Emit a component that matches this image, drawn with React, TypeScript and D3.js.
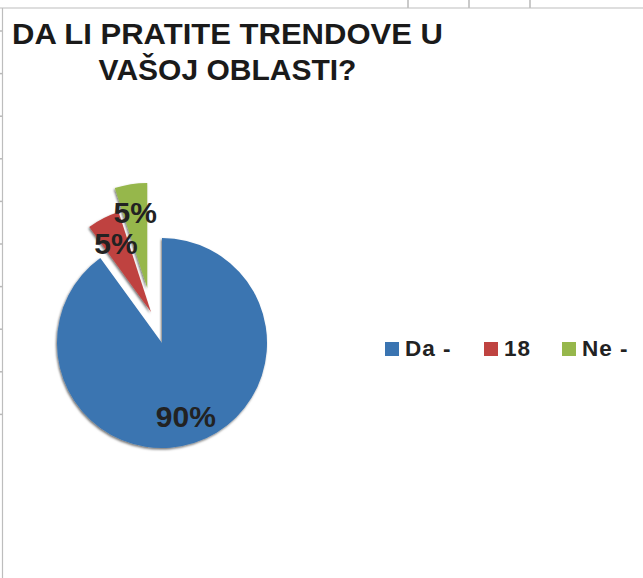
import React from "react";
import * as d3 from "d3";

const categories = ["Da -", "18", "Ne -"];
const values = [90, 5, 5];
const titleLines = ["DA LI PRATITE TRENDOVE U", "VAŠOJ OBLASTI?"];

const colors = ["#3A74B1", "#BF4340", "#96B74B"];
// explosion (px) and direction (deg clockwise from 12 o'clock) per slice
const explodeDist = [0, 33, 57];
const explodeDir = [0, 340.5, 345];

const W = 643;
const H = 578;
const cx = 162;
const cy = 343;
const R = 105;
const labelR = 77;

export default function App() {
  const pie = d3.pie<number>().sort(null).value((d) => d);
  const arcs = pie(values);
  const arcGen = d3.arc<d3.PieArcDatum<number>>().innerRadius(0).outerRadius(R);
  const total = d3.sum(values);
  const fmt = d3.format(".0%");

  const rowTicks = d3.range(0, 10).map((i) => 31 + i * 42.6);
  const colTicks = [408, 469, 530];
  const legendX = [385, 484, 562];

  return (
    <svg
      width={W}
      height={H}
      style={{ position: "absolute", left: 0, top: 0, background: "#fff" }}
      fontFamily="'Liberation Sans', Arial, sans-serif"
    >
      <defs>
        <filter id="sh" x="-20%" y="-20%" width="140%" height="140%">
          <feDropShadow dx={-1} dy={1.5} stdDeviation={1} floodColor="#000" floodOpacity={0.55} />
        </filter>
      </defs>
      <rect x={0} y={0} width={W} height={H} fill="#fff" />
      {/* sheet frame */}
      {colTicks.map((x, i) => (
        <line key={i} x1={x} x2={x} y1={0} y2={8} stroke="#B8B8B8" strokeWidth={1.5} />
      ))}
      {rowTicks.map((y, i) => (
        <line key={i} x1={0} x2={2.5} y1={y} y2={y} stroke="#B8B8B8" strokeWidth={1.5} />
      ))}
      <line x1={0} x2={W} y1={8} y2={8} stroke="#BDBDBD" strokeWidth={1.2} />
      <line x1={2.5} x2={2.5} y1={8} y2={H} stroke="#BDBDBD" strokeWidth={1.2} />

      {/* title */}
      <text x={227.5} y={44} textAnchor="middle" fontSize={30} fontWeight="bold" fill="#1a1a1a" textLength={431} lengthAdjust="spacingAndGlyphs">
        {titleLines[0]}
      </text>
      <text x={227.5} y={80} textAnchor="middle" fontSize={30} fontWeight="bold" fill="#1a1a1a">
        {titleLines[1]}
      </text>

      {/* pie */}
      {arcs.map((a, i) => {
        const ang = (explodeDir[i] * Math.PI) / 180;
        const ox = explodeDist[i] * Math.sin(ang);
        const oy = -explodeDist[i] * Math.cos(ang);
        return (
          <g key={i} transform={`translate(${cx + ox},${cy + oy})`}>
            <path d={arcGen(a) || ""} fill={colors[i]} filter="url(#sh)" />
          </g>
        );
      })}
      {arcs.map((a, i) => {
        const ang = (explodeDir[i] * Math.PI) / 180;
        const ox = explodeDist[i] * Math.sin(ang);
        const oy = -explodeDist[i] * Math.cos(ang);
        const mid = (a.startAngle + a.endAngle) / 2;
        const lx = labelR * Math.sin(mid);
        const ly = -labelR * Math.cos(mid);
        return (
          <text
            key={i}
            x={cx + ox + lx}
            y={cy + oy + ly + 11}
            textAnchor="middle"
            fontSize={30}
            fontWeight="bold"
            fill="#222"
          >
            {fmt(values[i] / total)}
          </text>
        );
      })}

      {/* legend */}
      {categories.map((c, i) => (
        <g key={i} transform={`translate(${legendX[i]},342)`}>
          <rect x={0} y={0} width={14} height={14} fill={colors[i]} />
          <text x={20} y={14} fontSize={22.5} fontWeight="bold" fill="#222" letterSpacing={1}>
            {c}
          </text>
        </g>
      ))}
    </svg>
  );
}
